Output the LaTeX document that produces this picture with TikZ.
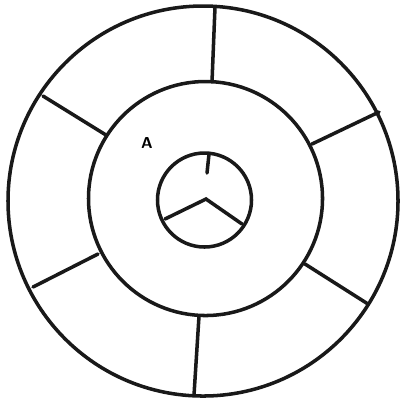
\documentclass[tikz,border=0pt]{standalone}
\usepackage{tikz}
\usetikzlibrary{positioning}
\colorlet{wheelink}{black!90}
\tikzset{
  wheelring/.style={draw=wheelink,line width=1pt},
  wheelspoke/.style={draw=wheelink,line width=1pt,line cap=round},
  wheellabel/.style={font=\sffamily\bfseries\fontsize{4.5}{4.5}\selectfont,inner sep=0pt}
}
\begin{document}
\begin{tikzpicture}[x=0.01cm,y=-0.01cm]
  \useasboundingbox (0,0) rectangle (401,399);
  % rings
  \coordinate (outerc) at (203,201);
  \coordinate (middlec) at (205.5,198.5);
  \coordinate (innerc) at (204.5,200);
  \draw[wheelring] (outerc) circle[radius=195];
  \draw[wheelring] (middlec) circle[radius=117];
  \draw[wheelring] (innerc) circle[radius=47];

  % outer spokes, middle ring to outer ring
  \foreach \sx/\sy/\tx/\ty in {212/82/215/7, 312/144/379/112, 305/264/368/304,
                               199/316/194/395, 98/254/33/287, 106/135/43/96}{
    \coordinate (s) at (\sx,\sy);
    \coordinate (t) at (\tx,\ty);
    \draw[wheelspoke] (s) -- (t);
  }

  % hub
  \coordinate (hub) at (206,199);
  \coordinate (hubtop) at (209,154);
  \coordinate (hubtopend) at (207,173);
  \coordinate (hubleft) at (165,219);
  \coordinate (hubright) at (242,224);
  \draw[wheelspoke] (hubtop) -- (hubtopend);
  \draw[wheelspoke] (hubleft) -- (hub) -- (hubright);

  \node[wheellabel] (labelA) at (147,143) {A};
\end{tikzpicture}
\end{document}
